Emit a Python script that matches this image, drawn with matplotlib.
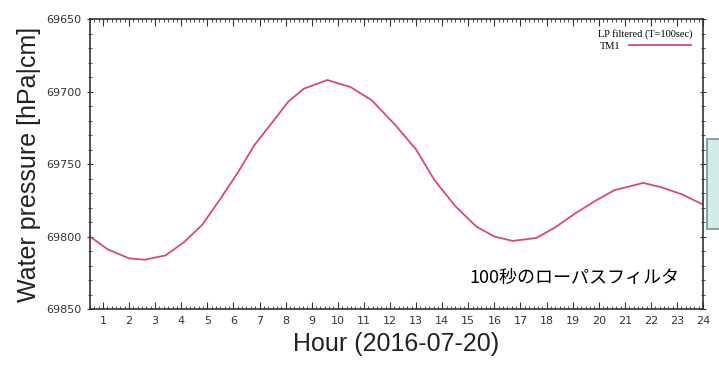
import matplotlib.pyplot as plt
import matplotlib.patches as patches
from matplotlib.ticker import MultipleLocator

# values (hour of day, water pressure)
hours = [0.5, 1.2, 2.0, 2.6, 3.4, 4.1, 4.8, 5.5, 6.2, 6.8, 7.5, 8.1, 8.7,
         9.6, 10.5, 11.3, 12.2, 13.0, 13.7, 14.5, 15.3, 16.0, 16.7, 17.6,
         18.3, 19.1, 19.9, 20.6, 21.7, 22.4, 23.2, 24.0]
pressure = [69800, 69809, 69815, 69816, 69813, 69804, 69792, 69774, 69755,
            69737, 69721, 69707, 69698, 69692, 69697, 69706, 69723, 69740,
            69761, 69779, 69793, 69800, 69803, 69801, 69794, 69784, 69775,
            69768, 69763, 69766, 69771, 69778]
hour_ticks = list(range(1, 25))
p_ticks = [69650, 69700, 69750, 69800, 69850]

fig = plt.figure(figsize=(7.19, 3.82), dpi=100)
ax = fig.add_axes([0.125, 0.191, 0.853, 0.759])

ax.plot(hours, pressure, color='#d94a72', lw=1.3, label='TM1')

ax.set_xlim(0.5, 24)
ax.set_ylim(69850, 69650)
ax.set_xticks(hour_ticks)
ax.set_yticks(p_ticks)
ax.xaxis.set_minor_locator(MultipleLocator(1 / 6))
ax.yaxis.set_minor_locator(MultipleLocator(10))
ax.tick_params(axis='x', which='both', direction='in', top=True, labelsize=8,
               colors='#333333', pad=5)
ax.tick_params(axis='y', which='both', direction='inout', right=True,
               labelsize=8, colors='#333333')
ax.tick_params(which='major', length=5)
ax.tick_params(which='minor', length=2.5)
for s in ax.spines.values():
    s.set_linewidth(1.2)
    s.set_color('#333333')

ax.set_xlabel('Hour (2016-07-20)', fontsize=18, family='Liberation Sans',
              color='#222222', labelpad=4)
ax.set_ylabel('Water pressure [hPa|cm]', fontsize=18, family='Liberation Sans',
              color='#222222', labelpad=4)

leg = ax.legend(loc='upper right', title='LP filtered (T=100sec)',
                frameon=False, markerfirst=False, handlelength=6,
                prop={'family': 'Liberation Serif', 'size': 7.5},
                title_fontproperties={'family': 'Liberation Serif', 'size': 7.5},
                borderaxespad=0.6, labelspacing=0.2)

ax.text(0.79, 0.107, '100秒のローパスフィルタ', transform=ax.transAxes,
        ha='center', va='center', fontsize=13,
        family=['Noto Sans CJK JP', 'DejaVu Sans'])

# partly visible box at the right edge
fig.patches.append(patches.Rectangle((0.984, 0.40), 0.03, 0.235,
                                     transform=fig.transFigure,
                                     facecolor='#d3ebe7', edgecolor='#6d9995',
                                     lw=1.2))

fig.savefig('out.png', dpi=100)
